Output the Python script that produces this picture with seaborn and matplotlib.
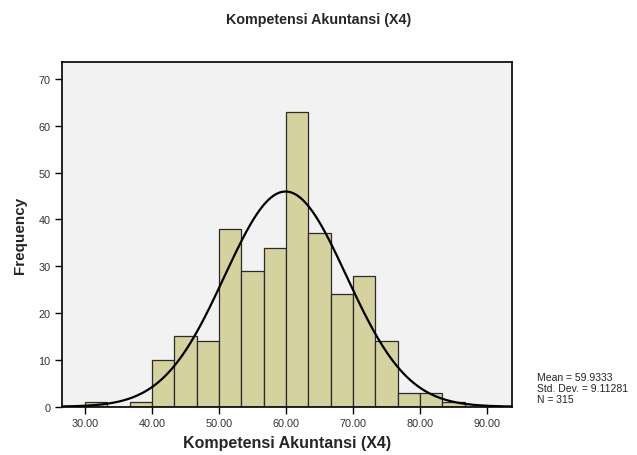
import numpy as np
import pandas as pd
import matplotlib
matplotlib.use("Agg")
import matplotlib.pyplot as plt
import seaborn as sns

# ---- data ----
bin_start = 30.0
bin_width = 10.0 / 3.0
counts = [1, 0, 1, 10, 15, 14, 38, 29, 34, 63, 37, 24, 28, 14, 3, 3, 1]
mean_val = 59.9333
std_val = 9.11281
n_val = 315
x_ticks = [30, 40, 50, 60, 70, 80, 90]
x_tick_labels = ["30.00", "40.00", "50.00", "60.00", "70.00", "80.00", "90.00"]
y_ticks = [0, 10, 20, 30, 40, 50, 60, 70]
title = "Kompetensi Akuntansi (X4)"
xlabel = "Kompetensi Akuntansi (X4)"
ylabel = "Frequency"

sns.set_theme(style="white")
plt.rcParams['font.family'] = ['Liberation Sans', 'DejaVu Sans']

edges = bin_start + bin_width * np.arange(len(counts) + 1)
centers = (edges[:-1] + edges[1:]) / 2
df = pd.DataFrame({"x": centers, "w": np.array(counts, dtype=float)})

fig = plt.figure(figsize=(6.37, 4.56), dpi=100)
fig.patch.set_facecolor("white")
ax = fig.add_axes([61.7 / 637, 1 - 407.7 / 456, (512.3 - 61.7) / 637, (407.7 - 62.7) / 456])
ax.set_facecolor("#F2F2F2")

sns.histplot(data=df, x="x", weights="w", binwidth=bin_width,
             binrange=(edges[0], edges[-1]), ax=ax,
             color="#D5D2A0", alpha=1.0, edgecolor="#2a2a2a", linewidth=0.9)

xs = np.linspace(26.5, 93.8, 400)
ys = n_val * bin_width / (std_val * np.sqrt(2 * np.pi)) * np.exp(-0.5 * ((xs - mean_val) / std_val) ** 2)
sns.lineplot(x=xs, y=ys, ax=ax, color="black", linewidth=1.6)

ax.set_xlim(26.5, 93.8)
ax.set_ylim(0, 73.7)
ax.set_xticks(x_ticks)
ax.set_xticklabels(x_tick_labels)
ax.set_yticks(y_ticks)
ax.tick_params(axis="both", direction="out", length=5, width=1, color="black",
               labelsize=7.8, labelcolor="#333333", pad=3, bottom=True, left=True)
for s in ax.spines.values():
    s.set_color("black")
    s.set_linewidth(1.2)

ax.set_xlabel(xlabel, fontsize=11.5, fontweight="bold", labelpad=5)
ax.set_ylabel(ylabel, fontsize=11, fontweight="bold", labelpad=8)
fig.text(319 / 637, 1 - 20 / 456, title, ha="center", va="center", fontsize=10.3, fontweight="bold")

stats = [f"Mean = {mean_val}", f"Std. Dev. = {std_val}", f"N = {n_val}"]
for i, s in enumerate(stats):
    fig.text(537 / 637, 1 - (378 + 11 * i) / 456, s, ha="left", va="center", fontsize=7.5, color="#222222")

fig.savefig("out.png", dpi=100)
